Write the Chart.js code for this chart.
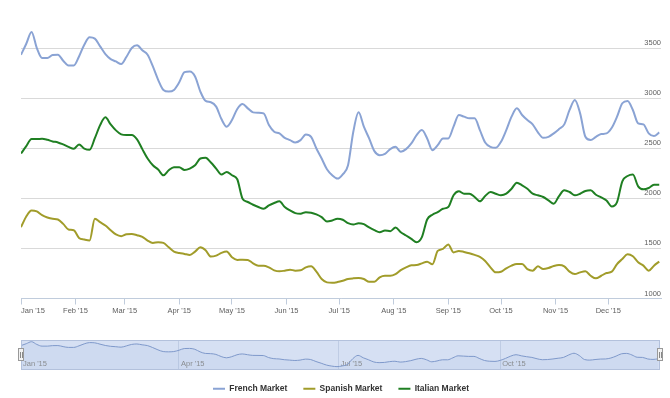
<!DOCTYPE html>
<html>
<head>
<meta charset="utf-8">
<script src="https://cdn.jsdelivr.net/npm/chart.js@4.4.0/dist/chart.umd.min.js"></script>
<style>
  html, body { margin: 0; padding: 0; background: #fff; overflow: hidden; }
  #wrap { position: relative; width: 670px; height: 398px; overflow: hidden; }
  #mainChart { position: absolute; left: 0; top: 0; }
  #navChart { position: absolute; left: 0; top: 334px; }
</style>
</head>
<body>
<div id="wrap">
  <canvas id="mainChart" width="670" height="403"></canvas>
  <canvas id="navChart" width="670" height="40"></canvas>
</div>
<script>
// day of year 2015, one reading every third day
const days = Array.from({length: 122}, (_, i) => i * 3);

const french = [
  3433, 3543, 3660, 3500, 3400, 3400, 3430, 3433, 3373, 3326,
  3326, 3416, 3533, 3607, 3594, 3517, 3440, 3390, 3366, 3340,
  3413, 3500, 3527, 3477, 3433, 3316, 3183, 3082, 3066, 3082,
  3159, 3259, 3266, 3216, 3066, 2972, 2959, 2915, 2791, 2715,
  2781, 2892, 2942, 2898, 2858, 2855, 2848, 2731, 2665, 2648,
  2604, 2581, 2558, 2581, 2638, 2614, 2497, 2397, 2290, 2230,
  2197, 2240, 2330, 2664, 2858, 2715, 2598, 2471, 2431, 2444,
  2491, 2514, 2464, 2491, 2548, 2631, 2681, 2598, 2481, 2531,
  2598, 2598, 2715, 2832, 2815, 2798, 2798, 2681, 2558, 2514,
  2504, 2564, 2681, 2815, 2898, 2832, 2781, 2738, 2658, 2604,
  2614, 2648, 2691, 2738, 2882, 2982, 2848, 2614, 2581, 2614,
  2641, 2648, 2704, 2815, 2949, 2972, 2882, 2748, 2738, 2648,
  2621, 2658
];

const spanish = [
  1712, 1819, 1879, 1869, 1832, 1809, 1796, 1789, 1745, 1689,
  1682, 1605, 1588, 1578, 1796, 1762, 1729, 1682, 1639, 1622,
  1642, 1645, 1632, 1615, 1578, 1555, 1562, 1555, 1511, 1468,
  1455, 1445, 1435, 1468, 1511, 1481, 1418, 1428, 1455, 1468,
  1411, 1385, 1388, 1385, 1351, 1328, 1328, 1311, 1281, 1271,
  1278, 1288, 1278, 1281, 1311, 1321, 1268, 1194, 1161, 1157,
  1164, 1177, 1194, 1201, 1204, 1194, 1167, 1167, 1211, 1227,
  1227, 1244, 1284, 1311, 1331, 1334, 1351, 1368, 1341, 1475,
  1495, 1540, 1460, 1475, 1465, 1452, 1435, 1415, 1375, 1311,
  1261, 1267, 1301, 1328, 1344, 1344, 1294, 1278, 1321, 1294,
  1304, 1324, 1334, 1321, 1268, 1244, 1261, 1271, 1227, 1201,
  1227, 1254, 1268, 1344, 1394, 1441, 1421, 1361, 1328, 1278,
  1328, 1368
];

const italian = [
  2447, 2521, 2591, 2591, 2594, 2584, 2568, 2558, 2538, 2514,
  2494, 2538, 2497, 2484, 2600, 2731, 2808, 2738, 2678, 2638,
  2631, 2631, 2588, 2491, 2397, 2330, 2287, 2230, 2280, 2310,
  2310, 2283, 2297, 2330, 2397, 2404, 2357, 2297, 2237, 2263,
  2230, 2190, 1996, 1963, 1936, 1913, 1896, 1929, 1953, 1970,
  1913, 1879, 1852, 1846, 1862, 1856, 1839, 1812, 1769, 1779,
  1796, 1786, 1752, 1739, 1752, 1742, 1709, 1682, 1662, 1679,
  1672, 1709, 1662, 1629, 1595, 1562, 1612, 1789, 1836, 1862,
  1896, 1913, 2030, 2070, 2046, 2046, 2013, 1970, 2023, 2063,
  2046, 2030, 2046, 2096, 2156, 2130, 2096, 2046, 2030, 2013,
  1979, 1946, 2023, 2080, 2063, 2030, 2046, 2073, 2080, 2036,
  2010, 1979, 1919, 1963, 2170, 2223, 2237, 2120, 2090, 2103,
  2136, 2136
];

//the last (364) entry is only there so that "inner" alignment leaves Dec centred
const monthStarts = [0, 31, 59, 90, 120, 151, 181, 212, 243, 273, 304, 334, 364];
const monthLabels = ["Jan '15", "Feb '15", "Mar '15", "Apr '15", "May '15", "Jun '15",
                     "Jul '15", "Aug '15", "Sep '15", "Oct '15", "Nov '15", "Dec '15", ""];
const navStarts = [0, 90, 181, 273];
const navLabels = ["Jan '15", "Apr '15", "Jul '15", "Oct '15"];
const yTicks = [1000, 1500, 2000, 2500, 3000, 3500];

const FONT = "'Liberation Sans', Arial, sans-serif";
const AXIS_COLOR = "#c0ccdc";

function points(values) {
    return days.map((d, i) => ({x: d, y: values[i]}));
}

//================================
// Main chart
//================================
new Chart(document.getElementById("mainChart"), {
    type: "line",
    data: {
        datasets: [
            {label: "French Market", data: points(french), borderColor: "#8aa3d4", borderWidth: 2},
            {label: "Spanish Market", data: points(spanish), borderColor: "#a19c2a", borderWidth: 2},
            {label: "Italian Market", data: points(italian), borderColor: "#1f7f22", borderWidth: 2}
        ]
    },
    options: {
        responsive: false,
        animation: false,
        elements: {
            point: {radius: 0},
            line: {cubicInterpolationMode: "monotone"}
        },
        layout: {padding: {left: 21, right: 9, top: 23, bottom: 0}},
        plugins: {
            tooltip: {enabled: false},
            legend: {
                position: "bottom",
                labels: {
                    usePointStyle: true,
                    pointStyle: "line",
                    pointStyleWidth: 12,
                    boxHeight: 8,
                    padding: 16,
                    color: "#333",
                    font: {family: FONT, size: 8.5, weight: "bold"}
                }
            }
        },
        scales: {
            x: {
                type: "linear",
                min: 0,
                max: 364,
                afterBuildTicks: (scale) => { scale.ticks = monthStarts.map(v => ({value: v})); },
                //leave room under the axis for the navigator
                afterFit: (scale) => { scale.height = 70; },
                grid: {
                    drawOnChartArea: false,
                    drawTicks: true,
                    tickLength: 6,
                    color: AXIS_COLOR,
                    tickColor: (c) => (c.tick && c.tick.value === 364) ? "rgba(0,0,0,0)" : AXIS_COLOR
                },
                border: {color: AXIS_COLOR},
                ticks: {
                    autoSkip: false,
                    maxRotation: 0,
                    align: "inner",
                    padding: 2,
                    color: "#606060",
                    font: {family: FONT, size: 7.5},
                    callback: (v) => monthLabels[monthStarts.indexOf(v)]
                }
            },
            y: {
                position: "right",
                min: 1000,
                max: 3750,
                afterBuildTicks: (scale) => { scale.ticks = yTicks.map(v => ({value: v})); },
                grid: {color: "#d9d9d9", drawTicks: false},
                border: {display: false},
                ticks: {
                    mirror: true,
                    padding: 0,
                    labelOffset: -5,
                    color: "#606060",
                    font: {family: FONT, size: 7.5},
                    callback: (v) => String(v)
                }
            }
        }
    }
});

//================================
// Navigator
//================================
const navigatorFrame = {
    id: "navigatorFrame",
    beforeDraw(chart) {
        const {ctx, chartArea: a} = chart;
        ctx.save();
        ctx.fillStyle = "#d6e0f3";
        ctx.fillRect(a.left, a.top, a.right - a.left, a.bottom - a.top);
        ctx.restore();
    },
    afterDraw(chart) {
        const {ctx, chartArea: a} = chart;
        ctx.save();
        ctx.strokeStyle = "#b3c1dc";
        ctx.lineWidth = 1;
        ctx.strokeRect(Math.round(a.left) + 0.5, Math.round(a.top) + 0.5,
                       Math.round(a.right - a.left) - 1, Math.round(a.bottom - a.top) - 1);
        //the two range handles
        const mid = Math.round((a.top + a.bottom) / 2);
        [a.left, a.right].forEach((x) => {
            x = Math.round(x);
            ctx.fillStyle = "#f2f2f2";
            ctx.strokeStyle = "#999";
            ctx.fillRect(x - 3, mid - 7, 6, 13);
            ctx.strokeRect(x - 2.5, mid - 6.5, 5, 12);
            ctx.beginPath();
            ctx.moveTo(x - 0.5, mid - 3); ctx.lineTo(x - 0.5, mid + 3);
            ctx.moveTo(x + 1.5, mid - 3); ctx.lineTo(x + 1.5, mid + 3);
            ctx.strokeStyle = "#888";
            ctx.stroke();
        });
        ctx.restore();
    }
};

new Chart(document.getElementById("navChart"), {
    type: "line",
    data: {
        datasets: [{
            label: "French Market",
            data: points(french),
            borderColor: "#7f99cb",
            borderWidth: 1,
            backgroundColor: "rgba(120,150,205,0.08)",
            fill: "start"
        }]
    },
    options: {
        responsive: false,
        animation: false,
        elements: {
            point: {radius: 0},
            line: {cubicInterpolationMode: "monotone"}
        },
        layout: {padding: {left: 21, right: 10, top: 6, bottom: 4}},
        plugins: {legend: {display: false}, tooltip: {enabled: false}},
        scales: {
            x: {
                type: "linear",
                min: 0,
                max: 364,
                afterBuildTicks: (scale) => { scale.ticks = navStarts.map(v => ({value: v})); },
                afterFit: (scale) => { scale.height = 0; },
                grid: {color: "rgba(150,165,200,0.35)", drawTicks: false},
                border: {display: false},
                ticks: {
                    mirror: true,
                    align: "start",
                    padding: 2,
                    labelOffset: 2,
                    color: "#8c8c8c",
                    font: {family: FONT, size: 7.5},
                    callback: (v) => navLabels[navStarts.indexOf(v)]
                }
            },
            y: {display: false, min: 2000, max: 3760}
        }
    },
    plugins: [navigatorFrame]
});
</script>
</body>
</html>
